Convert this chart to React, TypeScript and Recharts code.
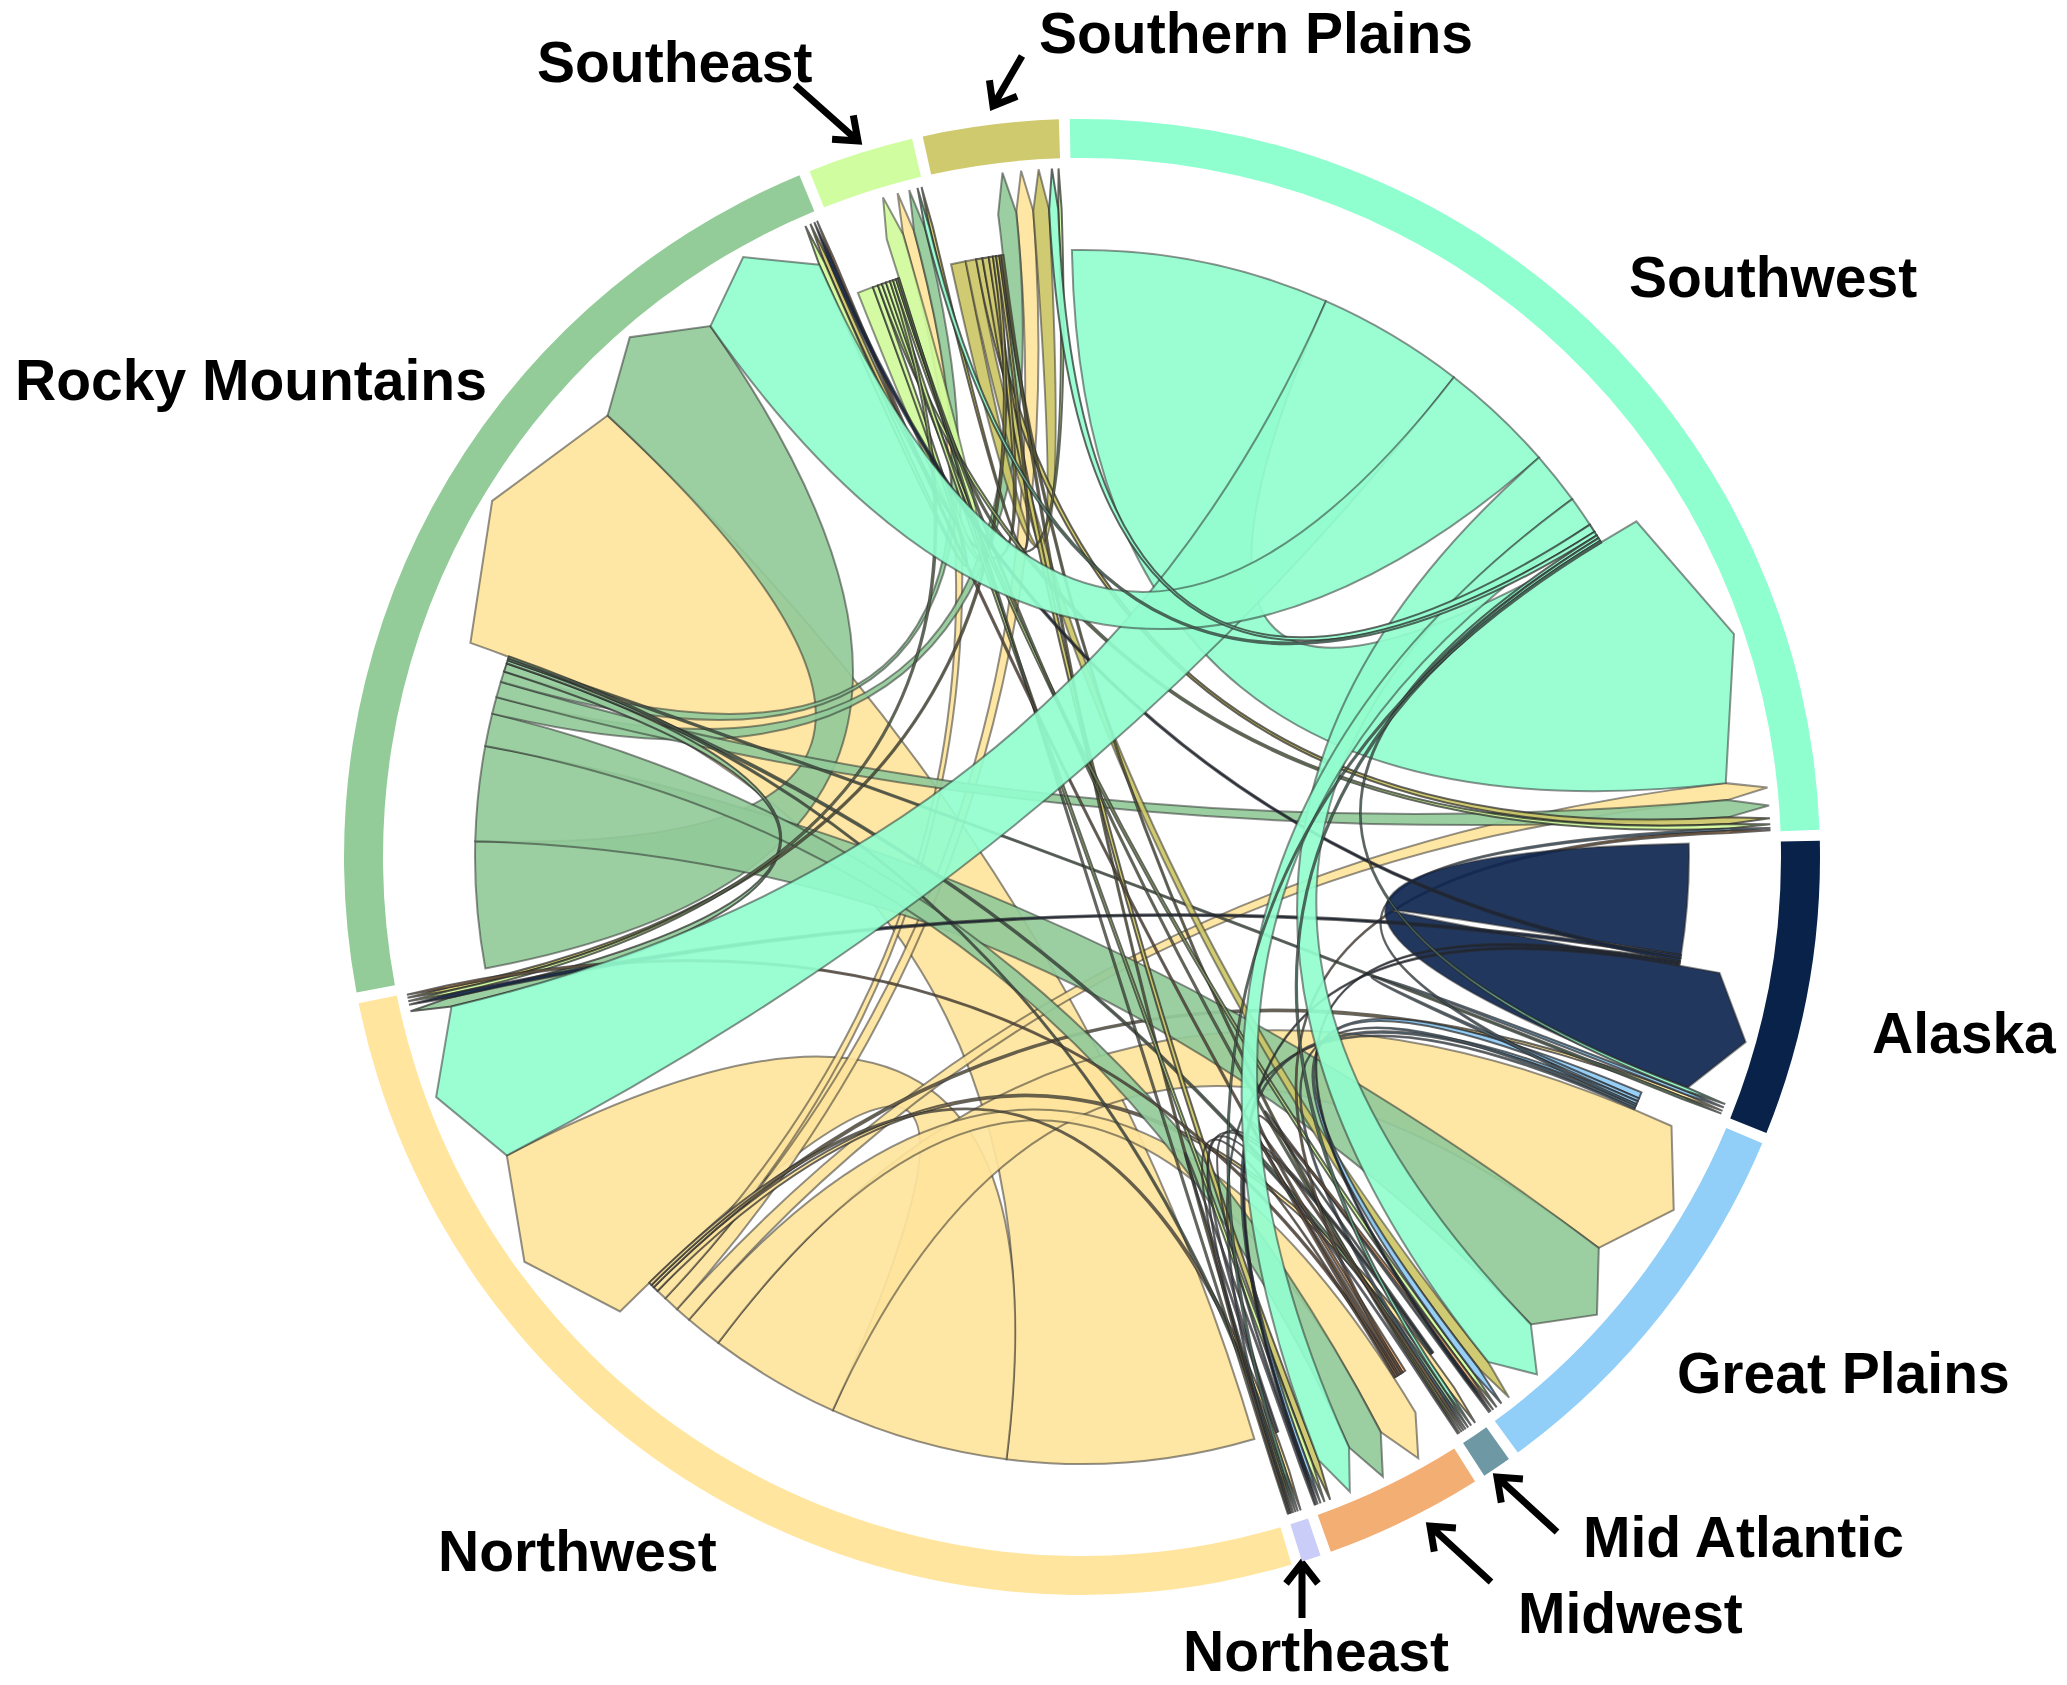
import React from 'react';
import { PieChart, Pie, Cell, Customized } from 'recharts';

// ---------- data ----------
const regions = [
  'Southwest', 'Alaska', 'Great Plains', 'Mid Atlantic', 'Midwest',
  'Northeast', 'Northwest', 'Rocky Mountains', 'Southeast', 'Southern Plains',
];
const ringColors = [
  '#8fffd0', '#08224a', '#91cef8', '#6e99a4', '#f2ae73',
  '#c9cdf8', '#ffe59d', '#93cc99', '#cffd9f', '#d0ca6e',
];
const linkColors = [
  '#92fdce', '#0f2650', '#8ecbf6', '#6e99a4', '#f2ae73',
  '#c9cdf8', '#fee49c', '#93ca99', '#d0fb9c', '#ccc667',
];

// flows from each region, listed toward regions in the order above
const fromSouthwest = [24.5, 0.3, 5, 0.3, 2.9, 0.2, 14, 11, 0.4, 0.8];
const fromAlaska = [0, 10.5, 0.2, 0, 0.2, 0, 0.3, 0.3, 0, 0];
const fromGreatPlains = [0.2, 0.3, 0.6, 0.2, 0.3, 0.1, 0, 0, 0, 0];
const fromMidAtlantic = [0, 0, 0.1, 0, 0.1, 0.1, 0, 0, 0, 0];
const fromMidwest = [0.2, 0, 0.3, 0.2, 0, 0.1, 0.2, 0.2, 0, 0];
const fromNortheast = [0, 0, 0, 0.1, 0.1, 0, 0, 0, 0, 0];
const fromNorthwest = [1.5, 0.3, 12.5, 0.5, 3.5, 0.3, 17, 23.5, 1, 1.5];
const fromRockyMountains = [1.5, 0.2, 9, 0.3, 3.1, 0.2, 0.8, 12, 1, 1.6];
const fromSoutheast = [0.4, 0, 0.4, 0.2, 0.4, 0.1, 0.3, 0.5, 1.5, 0.3];
const fromSouthernPlains = [0.6, 0, 1.0, 0.2, 0.6, 0.2, 0.3, 0.4, 0.3, 1.4];

const flows = [
  fromSouthwest, fromAlaska, fromGreatPlains, fromMidAtlantic, fromMidwest,
  fromNortheast, fromNorthwest, fromRockyMountains, fromSoutheast, fromSouthernPlains,
];

// ---------- layout ----------
const W = 2067;
const H = 1685;
const CX = 1082;
const CY = 857;
const R_OUT = 738;
const R_IN = 699;
const R_SRC = 607;
const R_BASE = 648;
const R_TIP = 689;
const START = 90.95; // recharts degrees (counter-clockwise from 3 o'clock)
const PAD = 0.85;
const DRAW_ORDER = [6, 7, 9, 8, 2, 3, 4, 5, 1, 0];

const n = regions.length;
const rowSum = flows.map((r) => r.reduce((a, b) => a + b, 0));
const colSum = regions.map((_, j) => flows.reduce((a, r) => a + r[j], 0));
const totals = regions.map((_, i) => rowSum[i] + colSum[i]);
const pieData = regions.map((name, i) => ({ name, value: totals[i] }));

type Link = { from: number; to: number; value: number; s0: number; s1: number; t0: number; t1: number };

function layoutLinks(): Link[] {
  const grand = totals.reduce((a, b) => a + b, 0);
  const unit = (360 - n * PAD) / grand;
  const links: Link[] = [];
  const key = (i: number, j: number) => i * n + j;
  const map = new Map<number, Link>();
  for (let i = 0; i < n; i++) for (let j = 0; j < n; j++) {
    if (flows[i][j] > 0) {
      const l = { from: i, to: j, value: flows[i][j], s0: 0, s1: 0, t0: 0, t1: 0 };
      links.push(l);
      map.set(key(i, j), l);
    }
  }
  let pos = 90 - START; // clockwise from 12 o'clock
  for (let i = 0; i < n; i++) {
    let p = pos;
    const outs = regions.map((_, j) => j).filter((j) => flows[i][j] > 0)
      .sort((a, b) => flows[i][b] - flows[i][a]);
    for (const j of outs) {
      const l = map.get(key(i, j))!;
      l.s0 = p; p += l.value * unit; l.s1 = p;
    }
    const ins = regions.map((_, j) => j).filter((j) => flows[j][i] > 0)
      .sort((a, b) => flows[b][i] - flows[a][i]);
    for (const j of ins) {
      const l = map.get(key(j, i))!;
      l.t0 = p; p += l.value * unit; l.t1 = p;
    }
    pos += totals[i] * unit + PAD;
  }
  return links;
}

function polar(r: number, deg: number): [number, number] {
  const a = (deg * Math.PI) / 180;
  return [CX + r * Math.sin(a), CY - r * Math.cos(a)];
}

function ribbonPath(l: Link): string {
  const [x0, y0] = polar(R_SRC, l.s0);
  const [x1, y1] = polar(R_SRC, l.s1);
  const [b0x, b0y] = polar(R_BASE, l.t0);
  const [tx, ty] = polar(R_TIP, (l.t0 + l.t1) / 2);
  const [b1x, b1y] = polar(R_BASE, l.t1);
  const large = l.s1 - l.s0 > 180 ? 1 : 0;
  return `M${x0},${y0}A${R_SRC},${R_SRC} 0 ${large} 1 ${x1},${y1}` +
    `Q${CX},${CY} ${b0x},${b0y}L${tx},${ty}L${b1x},${b1y}` +
    `Q${CX},${CY} ${x0},${y0}Z`;
}

const labelLayout = [
  { text: 'Southern Plains', x: 1039, y: 53 },
  { text: 'Southeast', x: 537, y: 82 },
  { text: 'Southwest', x: 1629, y: 297 },
  { text: 'Rocky Mountains', x: 15, y: 400 },
  { text: 'Alaska', x: 1872, y: 1053 },
  { text: 'Great Plains', x: 1677, y: 1393 },
  { text: 'Mid Atlantic', x: 1583, y: 1557 },
  { text: 'Midwest', x: 1518, y: 1633 },
  { text: 'Northwest', x: 438, y: 1571 },
  { text: 'Northeast', x: 1183, y: 1671 },
];

const pointerLayout = [
  { x1: 795, y1: 85, x2: 858, y2: 141 },
  { x1: 1022, y1: 56, x2: 993, y2: 106 },
  { x1: 1557, y1: 1532, x2: 1497, y2: 1477 },
  { x1: 1491, y1: 1582, x2: 1430, y2: 1526 },
  { x1: 1302, y1: 1618, x2: 1302, y2: 1563 },
];

function pointerPath(p: { x1: number; y1: number; x2: number; y2: number }) {
  const ang = Math.atan2(p.y2 - p.y1, p.x2 - p.x1);
  const len = 26;
  const spread = (38 * Math.PI) / 180;
  const ax = p.x2 - len * Math.cos(ang - spread);
  const ay = p.y2 - len * Math.sin(ang - spread);
  const bx = p.x2 - len * Math.cos(ang + spread);
  const by = p.y2 - len * Math.sin(ang + spread);
  return `M${p.x1},${p.y1}L${p.x2},${p.y2}M${ax},${ay}L${p.x2},${p.y2}L${bx},${by}`;
}

function ChordLayer() {
  const links = layoutLinks();
  const ordered: Link[] = [];
  for (const s of DRAW_ORDER) {
    links.filter((l) => l.from === s).sort((a, b) => b.value - a.value).forEach((l) => ordered.push(l));
  }
  return (
    <g>
      {ordered.map((l, k) => (
        <path
          key={k}
          d={ribbonPath(l)}
          fill={linkColors[l.from]}
          fillOpacity={0.92}
          stroke="#262626"
          strokeOpacity={l.value < 1 ? 0.7 : 0.5}
          strokeWidth={2}
        />
      ))}
      {labelLayout.map((t) => (
        <text
          key={t.text}
          x={t.x}
          y={t.y}
          fontFamily="'Liberation Sans', Arial, sans-serif"
          fontWeight={700}
          fontSize={57}
          fill="#000"
        >
          {t.text}
        </text>
      ))}
      {pointerLayout.map((p, k) => (
        <path key={k} d={pointerPath(p)} fill="none" stroke="#000" strokeWidth={7} strokeLinecap="butt" strokeLinejoin="miter" />
      ))}
    </g>
  );
}

export default function App() {
  return (
    <div style={{ position: 'absolute', left: 0, top: 0, width: W, height: H, background: '#fff' }}>
      <PieChart width={W} height={H} margin={{ top: 0, right: 0, bottom: 0, left: 0 }}>
        <Pie
          data={pieData}
          dataKey="value"
          nameKey="name"
          cx={CX}
          cy={CY}
          innerRadius={R_IN}
          outerRadius={R_OUT}
          startAngle={START}
          endAngle={START - 360}
          paddingAngle={PAD}
          stroke="none"
          isAnimationActive={false}
        >
          {pieData.map((d, i) => (
            <Cell key={d.name} fill={ringColors[i]} />
          ))}
        </Pie>
        <Customized component={ChordLayer} />
      </PieChart>
    </div>
  );
}
